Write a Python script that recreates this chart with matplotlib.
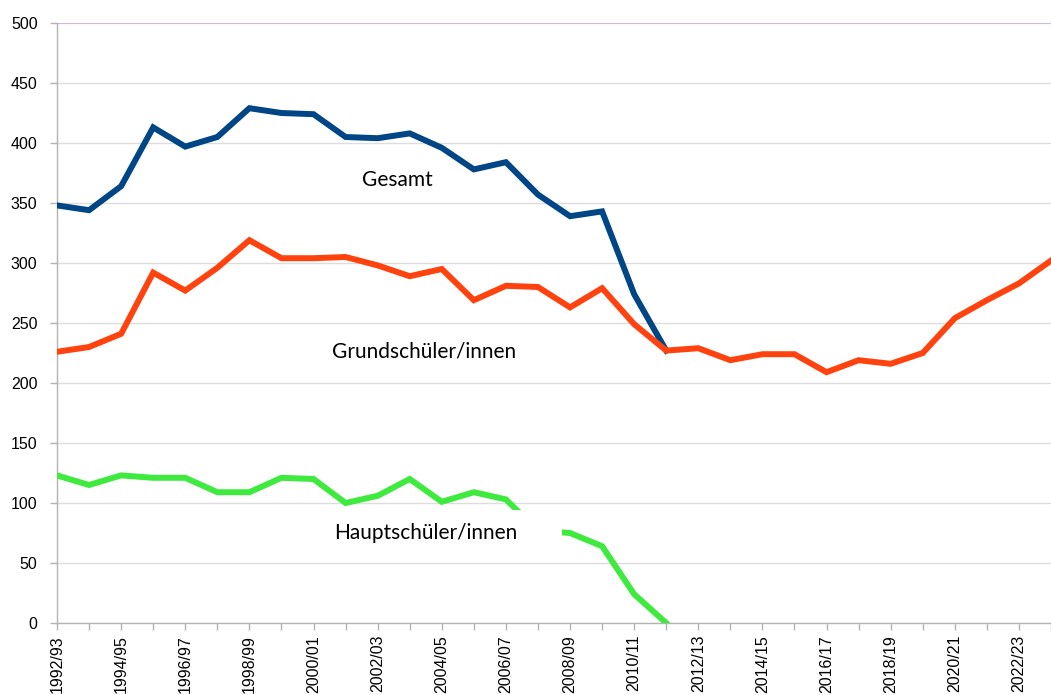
import numpy as np
import matplotlib
matplotlib.use('Agg')
import matplotlib.pyplot as plt
from matplotlib.patches import Rectangle

years = [f'{y}/{str(y + 1)[-2:]}' for y in range(1992, 2024)]

gesamt = [348, 344, 364, 413, 397, 405, 429, 425, 424, 405, 404, 408, 396, 378, 384,
          357, 339, 343, 274, 227]
grund = [226, 230, 241, 292, 277, 296, 319, 304, 304, 305, 298, 289, 295, 269, 281,
         280, 263, 279, 249, 227, 229, 219, 224, 224, 209, 219, 216, 225, 254, 269, 283, 302]
haupt = [123, 115, 123, 121, 121, 109, 109, 121, 120, 100, 106, 120, 101, 109, 103,
         77, 75, 64, 24, 0]

label_font = 'Lato'
tick_font = 'Liberation Sans'

fig = plt.figure(figsize=(10.51, 6.95), dpi=100)
ax = fig.add_axes([57 / 1051, 1 - 623 / 695, 1 - 57 / 1051, (623 - 23) / 695])

lw = 4.3
ax.plot(range(len(gesamt)), gesamt, color='#004586', lw=lw, solid_joinstyle='miter', zorder=3)
ax.plot(range(len(haupt)), haupt, color='#3fea3f', lw=lw, solid_joinstyle='miter', zorder=3)
ax.plot(range(len(grund)), grund, color='#ff420e', lw=lw, solid_joinstyle='miter', zorder=4)

ax.set_xlim(0, (1051 - 57) / 32.4)
ax.set_ylim(0, 500)

ax.set_yticks(np.arange(0, 501, 50))
ax.set_xticks(range(len(years)), minor=True)
ax.set_xticks(range(0, len(years), 2))
ax.set_xticklabels(years[::2], rotation=90)
ax.tick_params(axis='x', which='both', length=5, color='#b3b3b3', width=1)
ax.tick_params(axis='x', labelsize=11.5, pad=3.6)
ax.tick_params(axis='y', length=5, color='#b3b3b3', width=1, labelsize=11.5, pad=9)
for lab in ax.get_xticklabels() + ax.get_yticklabels():
    lab.set_fontfamily(tick_font)

ax.grid(axis='y', color='#dddddd', lw=1)
ax.set_axisbelow(True)
for s in ['top', 'right']:
    ax.spines[s].set_visible(False)
for s in ['left', 'bottom']:
    ax.spines[s].set_color('#b3b3b3')
    ax.spines[s].set_linewidth(1)
ax.axhline(500, color='#d4aee0', lw=1.2, zorder=2)

ax.text(10.6, 369, 'Gesamt', fontsize=15, family=label_font, ha='center', va='center', zorder=6)
ax.text(11.45, 226, 'Grundschüler/innen', fontsize=15, family=label_font,
        ha='center', va='center', zorder=6)
# white label frame that hides part of the green line
ax.add_patch(Rectangle((8.1, 58), 7.65, 36, facecolor='white', edgecolor='none', zorder=5))
ax.text(11.5, 75, 'Hauptschüler/innen', fontsize=15, family=label_font,
        ha='center', va='center', zorder=6)

fig.savefig('out.png', dpi=100)
